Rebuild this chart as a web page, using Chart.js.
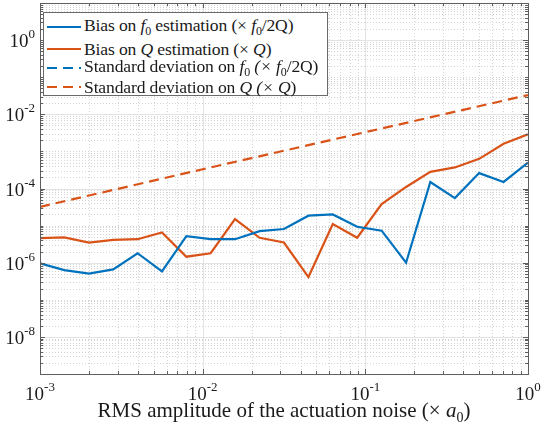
<!DOCTYPE html>
<html>
<head>
<meta charset="utf-8">
<script src="https://cdn.jsdelivr.net/npm/chart.js@4"></script>
<style>
  html, body { margin: 0; padding: 0; background: #fff; }
  #wrap { position: relative; width: 542px; height: 439px; font-family: "Liberation Serif", "Times New Roman", "DejaVu Serif", serif; color: #1a1a1a; }
  #wrap canvas { position: absolute; left: 0; top: 0; }
  #legend { position: absolute; left: 43px; top: 12px; width: 285px; height: 84px; border: 1px solid #6a6a6a; background: #fff; box-sizing: border-box; }
  .row { position: absolute; left: 2px; height: 20px; display: flex; align-items: center; font-size: 17.6px; white-space: nowrap; letter-spacing: -0.15px; }
  .row svg { width: 36px; height: 6px; margin-right: 2px; flex: none; }
  .row sub { font-size: 12px; vertical-align: -4px; }
  #xtitle { position: absolute; left: 40px; width: 488px; top: 398px; text-align: center; font-size: 21px; white-space: nowrap; }
  #xtitle sub { font-size: 14px; vertical-align: -5px; }
</style>
</head>
<body>
<div id="wrap">
  <canvas id="c" width="542" height="439"></canvas>
  <div id="legend"></div>
  <div id="xtitle">RMS amplitude of the actuation noise (× <i>a</i><sub>0</sub>)</div>
</div>
<script>
// noise levels (x), one value every 0.15 decade
const noiseRms = [0.001, 0.00141, 0.002, 0.00282, 0.00398, 0.00562, 0.00794, 0.0112, 0.0158, 0.0224,
  0.0316, 0.0447, 0.0631, 0.0891, 0.126, 0.178, 0.251, 0.355, 0.501, 0.708, 1];

const biasF0 = [9.6e-7, 6.3e-7, 5.1e-7, 6.6e-7, 1.8e-6, 5.8e-7, 5.2e-6, 4.3e-6, 4.3e-6, 7.1e-6,
  8.1e-6, 1.85e-5, 2.0e-5, 9.3e-6, 7.3e-6, 1.0e-6, 1.5e-4, 5.5e-5, 2.6e-4, 1.5e-4, 5.0e-4];
const biasQ = [4.6e-6, 4.8e-6, 3.5e-6, 4.1e-6, 4.3e-6, 6.5e-6, 1.45e-6, 1.8e-6, 1.5e-5, 4.7e-6,
  3.5e-6, 4.1e-7, 1.1e-5, 4.7e-6, 3.8e-5, 1.1e-4, 2.8e-4, 3.7e-4, 6.3e-4, 1.6e-3, 2.9e-3];

// standard deviations: Q one is a straight line, f0 one stays below the axes
const stdQx = [0.001, 0.01, 0.1, 1];
const stdQ = [3.2e-5, 3.3e-4, 3.3e-3, 3.3e-2];
const stdF0x = [];
const stdF0 = [];

const xTickExp = [-3, -2, -1, 0];
const yTickExp = [0, -2, -4, -6, -8];
const X_MIN = 1e-3, X_MAX = 1, Y_MIN = 1e-9, Y_MAX = 10;

const BLUE = "#0072BD";
const ORANGE = "#D95319";
const SERIF = '"Liberation Serif", "Times New Roman", serif';

const legendItems = [
  { color: BLUE, dash: null, html: 'Bias on <i>f</i><sub>0</sub> estimation (× <i>f</i><sub>0</sub>/2Q)', top: 4 },
  { color: ORANGE, dash: null, html: 'Bias on <i>Q</i> estimation (× <i>Q</i>)', top: 26 },
  { color: BLUE, dash: "10 6", html: 'Standard deviation on <i>f</i><sub>0</sub><i> (× </i><i>f</i><sub>0</sub>/2Q)', top: 45 },
  { color: ORANGE, dash: "10 6", html: 'Standard deviation on <i>Q (× Q</i>)', top: 64 },
];

const legendEl = document.getElementById("legend");
legendItems.forEach((it) => {
  const row = document.createElement("div");
  row.className = "row";
  row.style.top = it.top + "px";
  row.innerHTML = `<svg viewBox="0 0 36 6"><line x1="1" y1="3" x2="35" y2="3" stroke="${it.color}" stroke-width="2"${it.dash ? ` stroke-dasharray="${it.dash}"` : ""}/></svg><span>${it.html}</span>`;
  legendEl.appendChild(row);
});

function pts(xs, ys) { return xs.map((x, i) => ({ x, y: ys[i] })); }

function decadeTicks(lo, hi) {
  const major = [], minor = [];
  for (let e = lo; e <= hi; e++) {
    major.push(Math.pow(10, e));
    if (e < hi) for (let m = 2; m <= 9; m++) minor.push(m * Math.pow(10, e));
  }
  return { major, minor };
}

function drawPow(ctx, x, y, exp, align) {
  const base = "10", sup = String(exp);
  ctx.font = "19px " + SERIF;
  const wb = ctx.measureText(base).width;
  ctx.font = "13px " + SERIF;
  const ws = ctx.measureText(sup).width;
  const total = wb + ws;
  const x0 = align === "center" ? x - total / 2 : x - total;
  ctx.textAlign = "left";
  ctx.textBaseline = "alphabetic";
  ctx.font = "19px " + SERIF;
  ctx.fillText(base, x0, y);
  ctx.font = "13px " + SERIF;
  ctx.fillText(sup, x0 + wb, y - 9);
}

// MATLAB-like axes: grid, inward ticks, boxed frame, power-of-ten labels
const matlabAxes = {
  id: "matlabAxes",
  beforeDatasetsDraw(chart) {
    const { ctx, chartArea: a, scales: { x, y } } = chart;
    const xt = decadeTicks(-3, 0), yt = decadeTicks(-9, 1);
    ctx.save();
    ctx.lineWidth = 1;
    // minor grid, dotted
    ctx.strokeStyle = "#d4d4d4";
    ctx.setLineDash([1, 2]);
    xt.minor.forEach((v) => { const p = Math.round(x.getPixelForValue(v)) + 0.5; ctx.beginPath(); ctx.moveTo(p, a.top); ctx.lineTo(p, a.bottom); ctx.stroke(); });
    yt.minor.concat(yt.major.filter((v, i) => (i % 2) === 0)).forEach((v) => { const p = Math.round(y.getPixelForValue(v)) + 0.5; ctx.beginPath(); ctx.moveTo(a.left, p); ctx.lineTo(a.right, p); ctx.stroke(); });
    // major grid
    ctx.setLineDash([]);
    ctx.strokeStyle = "#e3e3e3";
    xt.major.forEach((v) => { const p = Math.round(x.getPixelForValue(v)) + 0.5; ctx.beginPath(); ctx.moveTo(p, a.top); ctx.lineTo(p, a.bottom); ctx.stroke(); });
    yTickExp.forEach((e) => { const p = Math.round(y.getPixelForValue(Math.pow(10, e))) + 0.5; ctx.beginPath(); ctx.moveTo(a.left, p); ctx.lineTo(a.right, p); ctx.stroke(); });
    ctx.restore();
  },
  afterDatasetsDraw(chart) {
    const { ctx, chartArea: a, scales: { x, y } } = chart;
    const xt = decadeTicks(-3, 0), yt = decadeTicks(-9, 1);
    ctx.save();
    ctx.strokeStyle = "#5e5e5e";
    ctx.lineWidth = 1;
    const tickX = (v, len) => {
      const p = Math.round(x.getPixelForValue(v)) + 0.5;
      ctx.beginPath(); ctx.moveTo(p, a.bottom); ctx.lineTo(p, a.bottom - len); ctx.moveTo(p, a.top); ctx.lineTo(p, a.top + len); ctx.stroke();
    };
    const tickY = (v, len) => {
      const p = Math.round(y.getPixelForValue(v)) + 0.5;
      ctx.beginPath(); ctx.moveTo(a.left, p); ctx.lineTo(a.left + len, p); ctx.moveTo(a.right, p); ctx.lineTo(a.right - len, p); ctx.stroke();
    };
    xt.minor.forEach((v) => tickX(v, 3));
    xt.major.forEach((v) => tickX(v, 5));
    yt.minor.forEach((v) => tickY(v, 3));
    yt.major.forEach((v, i) => tickY(v, i % 2 === 1 ? 5 : 3));
    ctx.strokeRect(Math.round(a.left) + 0.5, Math.round(a.top) + 0.5, Math.round(a.right - a.left), Math.round(a.bottom - a.top));

    ctx.fillStyle = "#1a1a1a";
    xTickExp.forEach((e) => drawPow(ctx, x.getPixelForValue(Math.pow(10, e)), a.bottom + 26, e, "center"));
    yTickExp.forEach((e) => drawPow(ctx, a.left - 5, y.getPixelForValue(Math.pow(10, e)) + 7, e, "right"));
    ctx.restore();
  },
};

const lineStyle = { fill: false, tension: 0, pointRadius: 0, borderWidth: 2.2, backgroundColor: "transparent" };

new Chart(document.getElementById("c"), {
  type: "line",
  data: {
    datasets: [
      { ...lineStyle, label: "Bias on f0 estimation", data: pts(noiseRms, biasF0), borderColor: BLUE },
      { ...lineStyle, label: "Bias on Q estimation", data: pts(noiseRms, biasQ), borderColor: ORANGE },
      { ...lineStyle, label: "Standard deviation on f0", data: pts(stdF0x, stdF0), borderColor: BLUE, borderDash: [10, 6] },
      { ...lineStyle, label: "Standard deviation on Q", data: pts(stdQx, stdQ), borderColor: ORANGE, borderDash: [10, 6] },
    ],
  },
  options: {
    responsive: false, animation: false,
    layout: { padding: { left: 40, top: 3, right: 14, bottom: 65 } },
    plugins: { legend: { display: false }, tooltip: { enabled: false } },
    scales: {
      x: { type: "logarithmic", min: X_MIN, max: X_MAX, display: false },
      y: { type: "logarithmic", min: Y_MIN, max: Y_MAX, display: false },
    },
  },
  plugins: [matlabAxes],
});
</script>
</body>
</html>
